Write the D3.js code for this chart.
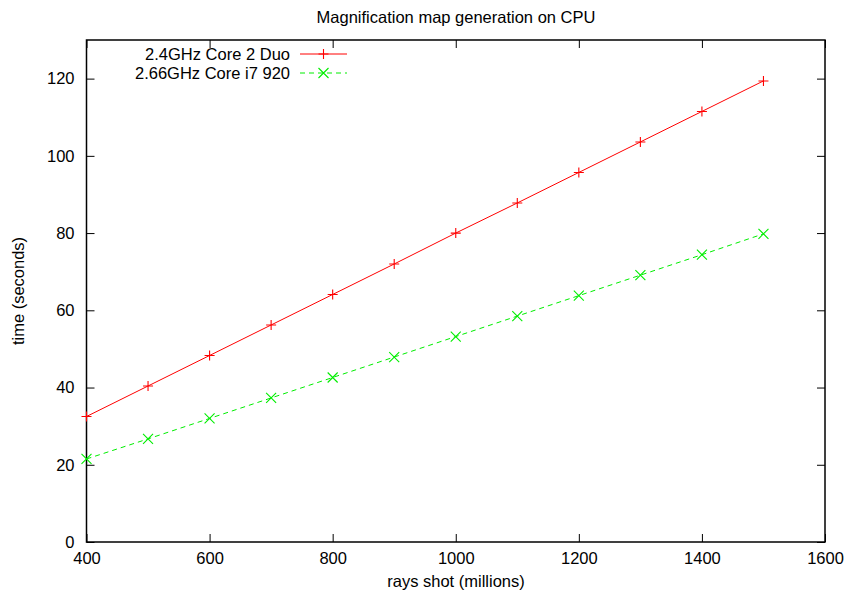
<!DOCTYPE html>
<html><head><meta charset="utf-8">
<script src="https://cdn.jsdelivr.net/npm/d3@7"></script>
<style>body{margin:0;background:#fff}svg{display:block}text{font-family:"Liberation Sans",Arial,sans-serif;font-size:16.5px;fill:#000}</style>
</head><body>
<svg id="c" width="848" height="597"></svg>
<script>
const raysShot = [400,500,600,700,800,900,1000,1100,1200,1300,1400,1500];
const core2Duo = [32.5,40.4,48.3,56.2,64.1,72.0,80.0,87.8,95.7,103.6,111.5,119.4];
const corei7 = [21.5,26.7,32.0,37.3,42.6,47.9,53.2,58.5,63.8,69.1,74.4,79.8];
const xTicks = [400,600,800,1000,1200,1400,1600];
const yTicks = [0,20,40,60,80,100,120];
const seriesNames = ["2.4GHz Core 2 Duo","2.66GHz Core i7 920"];

const L=86.5,R=825,T=40,B=542;
const FS=16.5;
const svg=d3.select("#c");
const x=d3.scaleLinear().domain([400,1600]).range([L,R]);
const y=d3.scaleLinear().domain([0,130]).range([B,T]);
const fmt=d3.format("d");

const axB=svg.append("g").attr("transform",`translate(0,${B})`).call(d3.axisBottom(x).tickValues(xTicks).tickFormat(fmt).tickSizeInner(-8).tickSizeOuter(0).tickPadding(10));
const axT=svg.append("g").attr("transform",`translate(0,${T})`).call(d3.axisTop(x).tickValues(xTicks).tickSizeInner(-8).tickSizeOuter(0).tickFormat(""));
const axL=svg.append("g").attr("transform",`translate(${L},0)`).call(d3.axisLeft(y).tickValues(yTicks).tickFormat(fmt).tickSizeInner(-8).tickSizeOuter(0).tickPadding(12));
const axR=svg.append("g").attr("transform",`translate(${R},0)`).call(d3.axisRight(y).tickValues(yTicks).tickSizeInner(-8).tickSizeOuter(0).tickFormat(""));
[axB,axT,axL,axR].forEach(a=>{a.select(".domain").remove();a.selectAll("line").attr("stroke","#000").attr("stroke-width",1);a.selectAll("text").attr("font-size",FS).attr("font-family",'"Liberation Sans",Arial,sans-serif').attr("fill","#000");});
axB.selectAll("text").attr("dy","0.71em");
svg.append("rect").attr("x",L).attr("y",T).attr("width",R-L).attr("height",B-T).attr("fill","none").attr("stroke","#000").attr("stroke-width",1.5);

const series=[
 {name:seriesNames[0],vals:core2Duo,color:"#ff0000",dash:null,mark:"plus"},
 {name:seriesNames[1],vals:corei7,color:"#00ee00",dash:"5,4",mark:"cross"}
];
function marker(g,cx,cy,type,color){
  const s=5;
  const p=type==="plus"?`M${cx-s},${cy}H${cx+s}M${cx},${cy-s}V${cy+s}`:`M${cx-s},${cy-s}L${cx+s},${cy+s}M${cx-s},${cy+s}L${cx+s},${cy-s}`;
  g.append("path").attr("d",p).attr("stroke",color).attr("stroke-width",1.1).attr("fill","none");
}
const line=d3.line().x(d=>x(d[0])).y(d=>y(d[1]));
series.forEach((s,i)=>{
  const pts=raysShot.map((r,j)=>[r,s.vals[j]]);
  svg.append("path").attr("d",line(pts)).attr("fill","none").attr("stroke",s.color).attr("stroke-width",1).attr("stroke-dasharray",s.dash);
  const g=svg.append("g");
  pts.forEach(p=>marker(g,x(p[0]),y(p[1]),s.mark,s.color));
  const ly=54+i*19;
  svg.append("text").attr("x",290).attr("y",ly).attr("dy","0.35em").attr("text-anchor","end").text(s.name);
  svg.append("line").attr("x1",300).attr("x2",347).attr("y1",ly).attr("y2",ly).attr("stroke",s.color).attr("stroke-dasharray",s.dash);
  marker(svg,323.5,ly,s.mark,s.color);
});

svg.append("text").attr("x",456).attr("y",17).attr("dy","0.35em").attr("text-anchor","middle").text("Magnification map generation on CPU");
svg.append("text").attr("x",456).attr("y",581).attr("dy","0.35em").attr("text-anchor","middle").text("rays shot (millions)");
svg.append("text").attr("transform","translate(18,291) rotate(-90)").attr("dy","0.35em").attr("text-anchor","middle").text("time (seconds)");
</script>
</body></html>
